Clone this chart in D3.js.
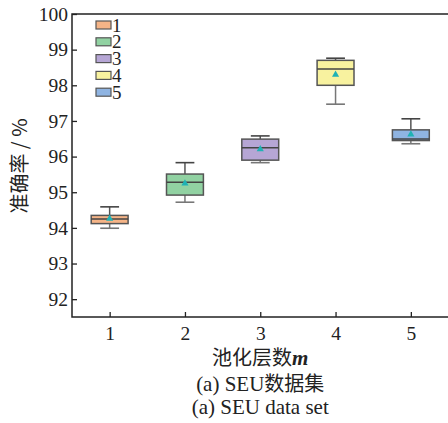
<!DOCTYPE html>
<html>
<head>
<meta charset="utf-8">
<script src="https://cdn.jsdelivr.net/npm/d3@7"></script>
<style>
  html, body { margin: 0; padding: 0; background: #fff; }
  svg { display: block; }
</style>
</head>
<body>
<svg id="chart" width="448" height="423"></svg>
<script>
// Pooling layer counts and accuracy box-plot statistics (%)
const categories = ["1", "2", "3", "4", "5"];
const whiskerLow  = [93.99, 94.72, 95.83, 97.47, 96.36];
const q1          = [94.12, 94.92, 95.90, 98.00, 96.45];
const medians     = [94.25, 95.28, 96.25, 98.46, 96.49];
const q3          = [94.35, 95.51, 96.49, 98.70, 96.75];
const whiskerHigh = [94.59, 95.83, 96.58, 98.76, 97.06];
const means       = [94.26, 95.25, 96.21, 98.30, 96.62];
const fills       = ["#f5b487", "#91d2a2", "#b6a6d5", "#f8f29f", "#8fb4e2"];
const yTicks      = [92, 93, 94, 95, 96, 97, 98, 99, 100];

const svg = d3.select("#chart");
const serif = "'Liberation Serif', 'Times New Roman', serif";
const cjk = "'Noto Sans CJK SC', sans-serif";

const x = d3.scaleLinear().domain([0.5, 5.5]).range([72, 448.5]);
const y = d3.scaleLinear().domain([91.5, 100]).range([317, 14]);

const boxHalf = 0.245, capHalf = 0.125;

// frame
svg.append("rect")
  .attr("x", x(0.5)).attr("y", y(100))
  .attr("width", x(5.5) - x(0.5) + 2).attr("height", y(91.5) - y(100))
  .attr("fill", "none").attr("stroke", "#222").attr("stroke-width", 1.5);

// axes with inward ticks
const yAxis = svg.append("g")
  .attr("transform", `translate(${x(0.5)},0)`)
  .call(d3.axisRight(y).tickValues(yTicks).tickSize(5).tickFormat(d3.format("d")));
yAxis.select(".domain").remove();
yAxis.selectAll("line").attr("stroke", "#222").attr("stroke-width", 1.3);
yAxis.selectAll("text")
  .attr("x", -4).attr("text-anchor", "end")
  .attr("font-family", serif).attr("font-size", 19.5).attr("fill", "#222");

const xAxis = svg.append("g")
  .attr("transform", `translate(0,${y(91.5)})`)
  .call(d3.axisTop(x).tickValues([1, 2, 3, 4, 5]).tickSize(5).tickFormat((d, i) => categories[i]));
xAxis.select(".domain").remove();
xAxis.selectAll("line").attr("stroke", "#222").attr("stroke-width", 1.3);
xAxis.selectAll("text")
  .attr("y", 23).attr("dy", 0)
  .attr("font-family", serif).attr("font-size", 19.5).attr("fill", "#222");

// box plots
const boxes = svg.append("g").selectAll("g").data(categories).join("g");
boxes.each(function (c, i) {
  const g = d3.select(this);
  const cx = i + 1;
  // whiskers
  g.append("line").attr("x1", x(cx)).attr("x2", x(cx))
    .attr("y1", y(whiskerHigh[i])).attr("y2", y(q3[i]))
    .attr("stroke", "#555").attr("stroke-width", 1.5);
  g.append("line").attr("x1", x(cx)).attr("x2", x(cx))
    .attr("y1", y(q1[i])).attr("y2", y(whiskerLow[i]))
    .attr("stroke", "#777").attr("stroke-width", 1.5);
  [whiskerHigh[i], whiskerLow[i]].forEach((v, k) => {
    g.append("line").attr("x1", x(cx - capHalf)).attr("x2", x(cx + capHalf))
      .attr("y1", y(v)).attr("y2", y(v))
      .attr("stroke", k === 0 ? "#444" : "#777").attr("stroke-width", 1.6);
  });
  // box
  g.append("rect")
    .attr("x", x(cx - boxHalf)).attr("width", x(cx + boxHalf) - x(cx - boxHalf))
    .attr("y", y(q3[i])).attr("height", y(q1[i]) - y(q3[i]))
    .attr("fill", fills[i]).attr("stroke", "#555").attr("stroke-width", 1.5);
  // median
  g.append("line").attr("x1", x(cx - boxHalf)).attr("x2", x(cx + boxHalf))
    .attr("y1", y(medians[i])).attr("y2", y(medians[i]))
    .attr("stroke", "#444").attr("stroke-width", 1.5);
  // mean marker
  g.append("path")
    .attr("d", d3.symbol(d3.symbolTriangle, 22)())
    .attr("transform", `translate(${x(cx)},${y(means[i])})`)
    .attr("fill", "#1fb2b5");
});

// legend
const legend = svg.append("g").selectAll("g").data(categories).join("g")
  .attr("transform", (d, i) => `translate(96,${25 + i * 16.8})`);
legend.append("rect")
  .attr("x", 0).attr("y", -4).attr("width", 15).attr("height", 8)
  .attr("fill", (d, i) => fills[i]).attr("stroke", "#555").attr("stroke-width", 1.2);
legend.append("text")
  .attr("x", 16).attr("y", 6.5)
  .attr("font-family", serif).attr("font-size", 19).attr("fill", "#222")
  .text(d => d);

// axis titles
svg.append("text")
  .attr("transform", `translate(27,166) rotate(-90)`)
  .attr("text-anchor", "middle")
  .attr("font-family", cjk).attr("font-size", 20).attr("fill", "#222")
  .text("准确率 / %");

const xt = svg.append("text")
  .attr("x", x(3)).attr("y", 365)
  .attr("text-anchor", "middle")
  .attr("font-family", cjk).attr("font-size", 20).attr("fill", "#222");
xt.append("tspan").text("池化层数");
xt.append("tspan").attr("font-family", serif).attr("font-style", "italic")
  .attr("font-weight", "bold").attr("font-size", 21).text("m");

const cap1 = svg.append("text")
  .attr("x", x(3)).attr("y", 391)
  .attr("text-anchor", "middle")
  .attr("font-family", serif).attr("font-size", 21).attr("fill", "#222");
cap1.append("tspan").text("(a) SEU");
cap1.append("tspan").attr("font-family", cjk).attr("font-size", 20).text("数据集");

svg.append("text")
  .attr("x", x(3)).attr("y", 414)
  .attr("text-anchor", "middle")
  .attr("font-family", serif).attr("font-size", 21).attr("fill", "#222")
  .text("(a) SEU data set");
</script>
</body>
</html>
